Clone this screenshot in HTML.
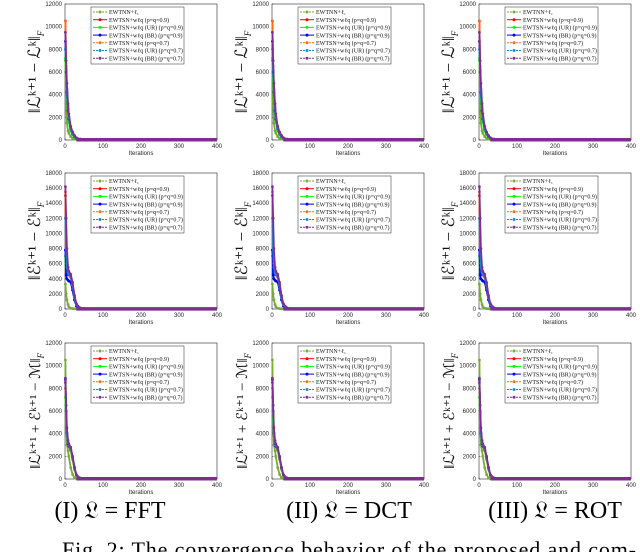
<!DOCTYPE html>
<html><head><meta charset="utf-8">
<style>
html,body{margin:0;padding:0;background:#fff;}
svg{display:block;}
.serif{font-family:"Liberation Serif",serif;}
.sans{font-family:"Liberation Sans",sans-serif;}
</style></head>
<body>
<svg id="fig" width="640" height="552" viewBox="0 0 640 552" xmlns="http://www.w3.org/2000/svg">
<text class="serif" x="110" y="518" font-size="24" text-anchor="middle">(I) 𝔏 = FFT</text>
<text class="serif" x="349" y="518" font-size="24" text-anchor="middle">(II) 𝔏 = DCT</text>
<text class="serif" x="555" y="518" font-size="24" text-anchor="middle">(III) 𝔏 = ROT</text>
<text class="serif" x="62" y="557" font-size="22" textLength="574" lengthAdjust="spacing">Fig. 2: The convergence behavior of the proposed and com-</text>
</svg>
<script>
const iterations = [1,3,5,8,10,15,20,25,30,40,50,60,80,400];
const seriesNames = ["EWTNN+ℓ₁","EWTSN+wℓq (p=q=0.9)","EWTSN+wℓq (UR) (p=q=0.9)","EWTSN+wℓq (BR) (p=q=0.9)","EWTSN+wℓq (p=q=0.7)","EWTSN+wℓq (UR) (p=q=0.7)","EWTSN+wℓq (BR) (p=q=0.7)"];
const seriesColors = ["#77ac30","#ff0000","#00ff00","#0000ff","#ff6a1a","#1a8ad4","#7e2f8e"];
// Row 1: ||L^{k+1}-L^k||_F
const row1Green = [7000,3000,1500,800,600,300,150,80,50,30,20,20,20,20];
const row1Red = [10500,6000,4000,2500,1800,900,500,300,150,60,30,20,20,20];
const row1Lime = [7200,5000,3500,2200,1600,800,450,250,130,50,25,20,20,20];
const row1Blue = [8700,6000,4200,2600,1900,1000,550,300,150,60,30,20,20,20];
const row1Orange = [10500,6500,4500,3000,2100,1100,600,330,170,70,30,20,20,20];
const row1Cyan = [8000,6200,4400,2800,2000,1050,580,320,160,65,30,20,20,20];
const row1Purple = [9500,7000,5000,3200,2300,1200,700,400,200,80,35,20,20,20];
// Row 2: ||E^{k+1}-E^k||_F
const row2Green = [3300,2000,1200,600,300,100,50,30,20,20,20,20,20,20];
const row2Red = [15000,8000,5000,4600,4500,4200,3000,1500,500,100,30,20,20,20];
const row2Lime = [7000,4500,4000,3800,3700,3500,2500,1200,400,80,30,20,20,20];
const row2Blue = [7800,4500,4000,3800,3700,3600,2500,1200,400,80,30,20,20,20];
const row2Orange = [15500,9000,6000,5000,4800,4400,3200,1600,600,120,35,20,20,20];
const row2Cyan = [12000,8000,5500,4800,4600,4300,3100,1500,550,110,30,20,20,20];
const row2Purple = [16200,12000,8000,5500,5000,4600,3500,1800,700,150,40,20,20,20];
// Row 3: ||L^{k+1}+E^{k+1}-M||_F
const row3Green = [10500,5000,3000,2500,2000,1000,400,100,30,20,20,20,20,20];
const row3Red = [8500,6000,4000,3200,3000,2600,1800,900,300,60,25,20,20,20];
const row3Lime = [7200,5000,3800,3100,2900,2500,1700,850,280,60,25,20,20,20];
const row3Blue = [8800,6000,4000,3100,2900,2600,1900,1000,350,70,25,20,20,20];
const row3Orange = [8000,5800,4000,3200,3000,2600,1800,900,300,60,25,20,20,20];
const row3Cyan = [8700,6000,4100,3200,3000,2700,1900,950,320,65,25,20,20,20];
const row3Purple = [8900,6500,4500,3400,3100,2800,2000,1050,380,80,30,20,20,20];
const xTicks = [0,100,200,300,400];
const row1Ticks = [0,2000,4000,6000,8000,10000,12000];
const row2Ticks = [0,2000,4000,6000,8000,10000,12000,14000,16000,18000];
const row3Ticks = [0,2000,4000,6000,8000,10000,12000];

const NS="http://www.w3.org/2000/svg";
const svg=document.getElementById('fig');
function mk(tag,attrs,parent){const e=document.createElementNS(NS,tag);for(const k in attrs)e.setAttribute(k,attrs[k]);(parent||svg).appendChild(e);return e;}
const rows=[
 {top:4,bottom:140,ymax:12000,ticks:row1Ticks,data:[row1Green,row1Red,row1Lime,row1Blue,row1Orange,row1Cyan,row1Purple],lab:"l"},
 {top:173,bottom:309,ymax:18000,ticks:row2Ticks,data:[row2Green,row2Red,row2Lime,row2Blue,row2Orange,row2Cyan,row2Purple],lab:"e"},
 {top:343,bottom:479,ymax:12000,ticks:row3Ticks,data:[row3Green,row3Red,row3Lime,row3Blue,row3Orange,row3Cyan,row3Purple],lab:"m"}
];
const cols=[{x0:65},{x0:272},{x0:479}];
const W=152;
rows.forEach((r,ri)=>{cols.forEach((c,ci)=>{
  const g=mk('g',{});
  
  
  const xs=v=>c.x0+v/400*W;
  const ys=v=>r.bottom-v/r.ymax*(r.bottom-r.top);
  const box=mk('rect',{x:c.x0,y:r.top,width:W,height:r.bottom-r.top,fill:'#fff',stroke:'#262626','stroke-width':0.6},g);
  
  
  xTicks.forEach(t=>{
    mk('line',{x1:xs(t),x2:xs(t),y1:r.bottom,y2:r.bottom-1.5,stroke:'#262626','stroke-width':0.5},g);
    const tx=mk('text',{x:xs(t),y:r.bottom+8,'font-size':6,class:'sans','text-anchor':'middle',fill:'#262626'},g);
    tx.textContent=t;
    
    
  });
  r.ticks.forEach(t=>{
    mk('line',{x1:c.x0,x2:c.x0+1.5,y1:ys(t),y2:ys(t),stroke:'#262626','stroke-width':0.5},g);
    const tx=mk('text',{x:c.x0-3,y:ys(t)+2,'font-size':6,class:'sans','text-anchor':'end',fill:'#262626'},g);
    tx.textContent=t;
    
    
  });
  const xl=mk('text',{x:c.x0+W/2,y:r.bottom+15,'font-size':6,class:'sans','text-anchor':'middle',fill:'#262626'},g);
  xl.textContent='Iterations';
  
  
  const yl=mk('text',{transform:'translate('+(c.x0-25)+','+((r.top+r.bottom)/2)+') rotate(-90)','font-size':r.lab==='m'?15:17,class:'serif','text-anchor':'middle',fill:'#111'},g);
  const main = r.lab==='l' ? '‖ℒᵏ⁺¹ − ℒᵏ‖' : r.lab==='e' ? '‖ℰᵏ⁺¹ − ℰᵏ‖' : '‖ℒᵏ⁺¹ + ℰᵏ⁺¹ − ℳ‖';
  const t1=mk('tspan',{},yl); t1.textContent=main;
  const t2=mk('tspan',{'font-size':9,dy:4,'font-style':'italic'},yl); t2.textContent='F';
  
  
  r.data.forEach((vals,si)=>{
    const col=seriesColors[si];
    const pts=vals.map((v,i)=>xs(iterations[i])+','+ys(v)).join(' ');
    const pl=mk('polyline',{points:pts,fill:'none',stroke:col,'stroke-width':1.8},g);
    
    
    vals.forEach((v,i)=>{
      if(iterations[i]>100) return;
      const m=mk('circle',{cx:xs(iterations[i]),cy:ys(v),r:1.4,fill:col},g);
      
      
    });
  });
  const tail=mk('line',{x1:xs(30),x2:xs(400),y1:ys(r.data[6][13]),y2:ys(r.data[6][13]),stroke:'#7e2f8e','stroke-width':3.5},g);
  
  
  const lx=c.x0+26, ly=r.top+3, lw=93, lh=57;
  const lg=mk('g',{},g);
  
  
  mk('rect',{x:lx,y:ly,width:lw,height:lh,fill:'#fff',stroke:'#262626','stroke-width':0.5},lg);
  seriesNames.forEach((n,si)=>{
    const yy=ly+5+si*7.7;
    mk('line',{x1:lx+2,x2:lx+16,y1:yy,y2:yy,stroke:seriesColors[si],'stroke-width':1,'stroke-dasharray':si>=1&&si<=3?'none':'2,1'},lg);
    mk('circle',{cx:lx+9,cy:yy,r:1.5,fill:seriesColors[si]},lg);
    const t=mk('text',{x:lx+18,y:yy+2.2,'font-size':6,class:'serif',fill:'#111'},lg);
    t.textContent=n;
    
    
  });
});});
</script>
</body></html>
